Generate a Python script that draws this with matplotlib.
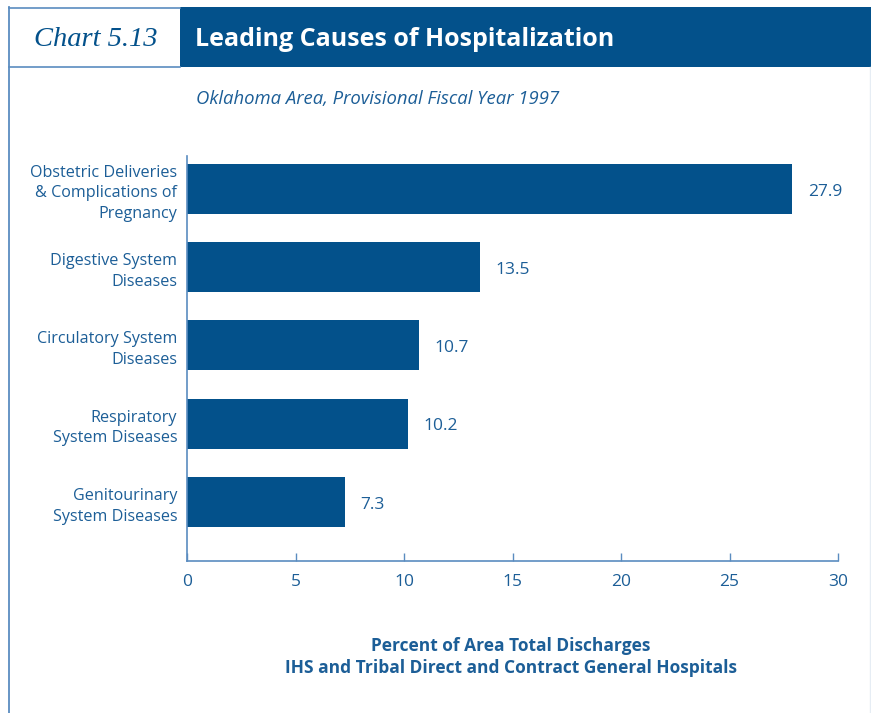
import matplotlib.pyplot as plt
from matplotlib.patches import Rectangle
from matplotlib.lines import Line2D

# data
causes = [
    "Obstetric Deliveries\n& Complications of\nPregnancy",
    "Digestive System\nDiseases",
    "Circulatory System\nDiseases",
    "Respiratory\nSystem Diseases",
    "Genitourinary\nSystem Diseases",
]
percent = [27.9, 13.5, 10.7, 10.2, 7.3]
value_labels = ["27.9", "13.5", "10.7", "10.2", "7.3"]
x_ticks = [0, 5, 10, 15, 20, 25, 30]

W, H = 871, 713
BLUE = "#03518b"
TEXT = "#1c5e97"
LINE = "#5a8cc0"

plt.rcParams['font.family'] = ['Open Sans', 'DejaVu Sans']

fig = plt.figure(figsize=(W / 100, H / 100), dpi=100)


def fx(px):
    return px / W


def fy(py):
    return 1 - py / H


# frame and header
fig.add_artist(Rectangle((fx(180), fy(67)), fx(871 - 180), 60 / H,
                         transform=fig.transFigure, color=BLUE, lw=0))
fig.add_artist(Line2D([fx(9), fx(9)], [fy(7), fy(713)], transform=fig.transFigure, color=LINE, lw=1.3))
fig.add_artist(Line2D([fx(9), fx(180)], [fy(7.5), fy(7.5)], transform=fig.transFigure, color=LINE, lw=1.2))
fig.add_artist(Line2D([fx(9), fx(180)], [fy(67), fy(67)], transform=fig.transFigure, color=LINE, lw=1.2))
fig.add_artist(Line2D([fx(870), fx(870)], [fy(67), fy(713)], transform=fig.transFigure, color="#e6edf4", lw=1))

fig.text(fx(96), fy(40), "Chart 5.13", family="Liberation Serif", style="italic",
         fontsize=20.5, color=BLUE, ha="center", va="center")
fig.text(fx(195), fy(40), "Leading Causes of Hospitalization", fontsize=18,
         weight="bold", color="white", ha="left", va="center")
fig.text(fx(196), fy(99), "Oklahoma Area, Provisional Fiscal Year 1997", fontsize=13.3,
         style="italic", color=TEXT, ha="left", va="center")

# chart
ax = fig.add_axes([fx(187), fy(561), fx(838 - 187), (561 - 156) / H])
ypos = list(range(len(causes) - 1, -1, -1))
ax.barh(ypos, percent, height=0.64, color=BLUE)
for y, v, lab in zip(ypos, percent, value_labels):
    ax.annotate(lab, (v, y), xytext=(11, -2), textcoords="offset points",
                ha="left", va="center", fontsize=12.5, color=TEXT)

ax.set_xlim(0, 30)
ax.set_ylim(-0.754, 4.42)
ax.set_xticks(x_ticks)
ax.set_yticks(ypos)
ax.set_yticklabels(causes, fontsize=11.6, color=TEXT, linespacing=1.38)
ax.tick_params(axis="y", length=0, pad=7)
ax.tick_params(axis="x", direction="in", length=6, color=LINE, labelcolor=TEXT,
               labelsize=12.5, pad=9, width=1)
for s in ["top", "right"]:
    ax.spines[s].set_visible(False)
for s in ["left", "bottom"]:
    ax.spines[s].set_color(LINE)
    ax.spines[s].set_linewidth(1.2)

fig.text(fx(511), fy(646), "Percent of Area Total Discharges", fontsize=12.5,
         weight="bold", color=TEXT, ha="center", va="center")
fig.text(fx(511), fy(668), "IHS and Tribal Direct and Contract General Hospitals", fontsize=12.5,
         weight="bold", color=TEXT, ha="center", va="center")

fig.savefig("out.png", dpi=100)
